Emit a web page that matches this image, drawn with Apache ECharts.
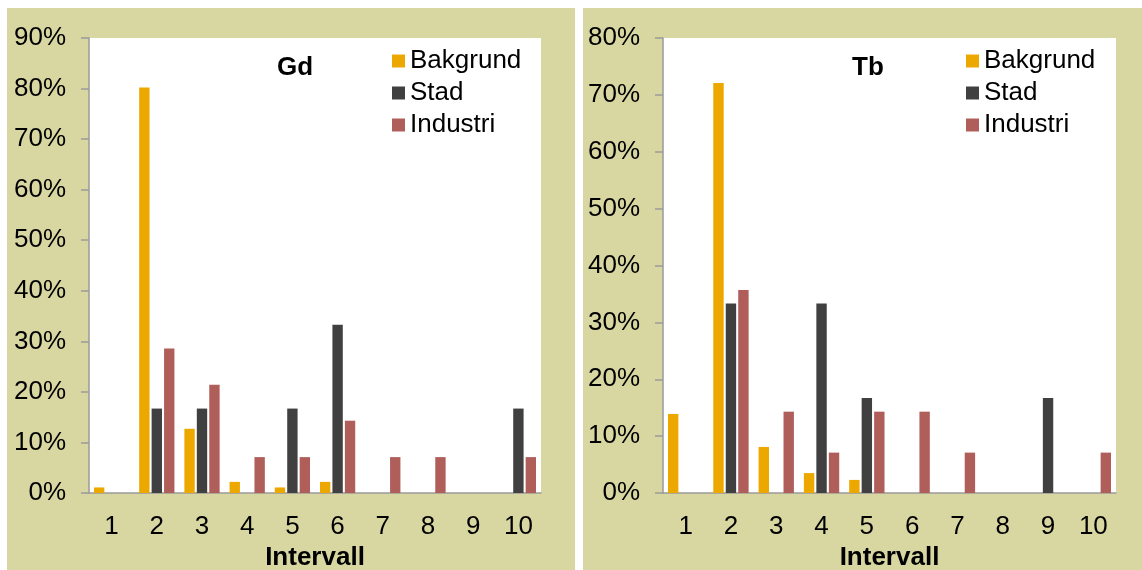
<!DOCTYPE html>
<html>
<head>
    <meta charset="utf-8">
    <style>
        body { margin: 0; background: #ffffff; }
        .panel {
            position: absolute;
            top: 8px;
            height: 562px;
            background-color: #d9d7a1;
        }
        #gd { left: 7px; width: 568px; }
        #tb { left: 583px; width: 559px; }
    </style>
    <script type="text/javascript" src="https://cdn.jsdelivr.net/npm/echarts@6/dist/echarts.min.js"></script>
</head>
<body>
<div class="panel" id="gd"></div>
<div class="panel" id="tb"></div>
<script type="text/javascript">
    var intervals = ['1', '2', '3', '4', '5', '6', '7', '8', '9', '10'];
    var seriesNames = ['Bakgrund', 'Stad', 'Industri'];

    // Gd, percent per interval
    var gdBakgrund = [1.1, 80.2, 12.7, 2.2, 1.1, 2.2, 0, 0, 0, 0];
    var gdStad     = [0, 16.7, 16.7, 0, 16.7, 33.3, 0, 0, 0, 16.7];
    var gdIndustri = [0, 28.6, 21.4, 7.1, 7.1, 14.3, 7.1, 7.1, 0, 7.1];

    // Tb, percent per interval
    var tbBakgrund = [13.9, 72.1, 8.1, 3.5, 2.3, 0, 0, 0, 0, 0];
    var tbStad     = [0, 33.3, 0, 33.3, 16.7, 0, 0, 0, 16.7, 0];
    var tbIndustri = [0, 35.7, 14.3, 7.1, 14.3, 14.3, 7.1, 0, 0, 7.1];

    var colors = ['#eda800', '#404040', '#b05e5a'];
    var font = "'Liberation Sans', Arial, sans-serif";

    function makeOption(title, titleX, legendX, gridLeft, gridRight, yMax, data) {
        var series = [];
        for (var i = 0; i < 3; i++) {
            series.push({
                name: seriesNames[i],
                type: 'bar',
                data: data[i],
                barGap: '20%',
                barCategoryGap: '22%',
                itemStyle: {color: colors[i]},
                emphasis: {disabled: true}
            });
        }
        return {
            animation: false,
            textStyle: {fontFamily: font},
            title: {
                text: title,
                left: titleX,
                top: 42,
                textAlign: 'center',
                textStyle: {fontFamily: font, fontSize: 26, fontWeight: 'bold', color: '#000'}
            },
            legend: {
                orient: 'vertical',
                left: legendX,
                top: 35,
                itemWidth: 13,
                itemHeight: 13,
                itemGap: 6,
                icon: 'rect',
                data: seriesNames,
                textStyle: {fontFamily: font, fontSize: 26, color: '#000'}
            },
            grid: {
                left: gridLeft, right: gridRight, top: 30, bottom: 77,
                outerBoundsMode: 'none',
                show: true, backgroundColor: '#ffffff', borderWidth: 0
            },
            xAxis: {
                type: 'category',
                data: intervals,
                name: 'Intervall',
                nameLocation: 'middle',
                nameGap: 48,
                nameTextStyle: {fontFamily: font, fontSize: 26, fontWeight: 'bold', color: '#000'},
                axisLine: {lineStyle: {color: '#9a9a9a', width: 1.5}},
                axisTick: {length: 7, lineStyle: {color: '#9a9a9a', width: 1.5}},
                axisLabel: {margin: 21, fontSize: 26, color: '#000', fontFamily: font}
            },
            yAxis: {
                type: 'value',
                min: 0,
                max: yMax,
                interval: 10,
                axisLine: {show: true, lineStyle: {color: '#9a9a9a', width: 1.5}},
                axisTick: {show: true, length: 8, lineStyle: {color: '#9a9a9a', width: 1.5}},
                splitLine: {show: false},
                axisLabel: {margin: 23, fontSize: 26, color: '#000', fontFamily: font, formatter: '{value}%'}
            },
            series: series
        };
    }

    var gdChart = echarts.init(document.getElementById('gd'));
    gdChart.setOption(makeOption('Gd', 283, 380, 82, 34, 90, [gdBakgrund, gdStad, gdIndustri]));

    var tbChart = echarts.init(document.getElementById('tb'));
    tbChart.setOption(makeOption('Tb', 280, 378, 80, 26, 80, [tbBakgrund, tbStad, tbIndustri]));
</script>
</body>
</html>
